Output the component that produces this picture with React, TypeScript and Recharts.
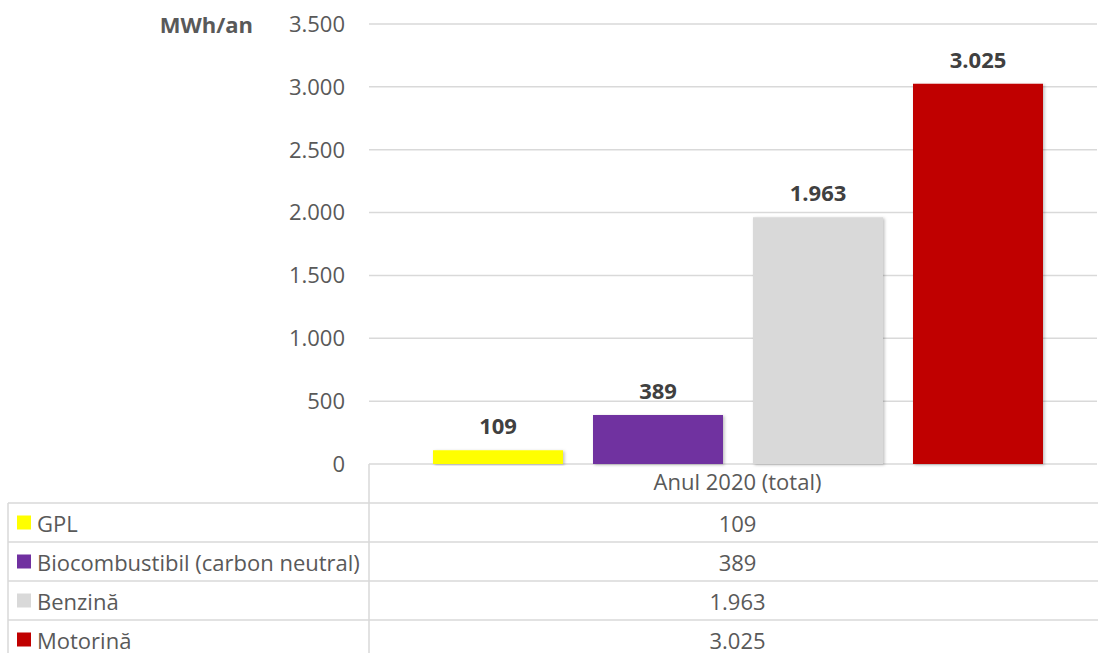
import { BarChart, Bar, XAxis, YAxis, CartesianGrid, LabelList, Customized } from "recharts";

const categories = ["Anul 2020 (total)"];
const seriesNames = ["GPL", "Biocombustibil (carbon neutral)", "Benzină", "Motorină"];
const seriesValues = [109, 389, 1963, 3025];
const seriesColors = ["#FFFF00", "#7030A0", "#D9D9D9", "#C00000"];
const yTicks = [0, 500, 1000, 1500, 2000, 2500, 3000, 3500];
const unitLabel = "MWh/an";

const W = 1098;
const H = 653;
const FONT = "'Open Sans', sans-serif";
const TEXT = "#595959";
const LINE = "#d9d9d9";

// plot area: x 369..1097, y 24..464
const PLOT_LEFT = 369;
const PLOT_BOTTOM = 464;
const ROW_H = 39;
const VALUE_X = 737.5;

const data = categories.map((name, c) => {
  const row: Record<string, string | number> = { name };
  seriesNames.forEach((_, i) => {
    row["s" + i] = c === 0 ? seriesValues[i] : 0;
  });
  return row;
});

const fmt = (v: number) => String(v).replace(/\B(?=(\d{3})+(?!\d))/g, ".");

function DataTable() {
  const left = 8;
  return (
    <g fontFamily={FONT}>
      <defs>
        <filter id="barShadow" x="-10%" y="-10%" width="120%" height="120%">
          <feDropShadow dx="1.5" dy="1" stdDeviation="1.5" floodColor="#000" floodOpacity="0.25" />
        </filter>
      </defs>
      <text x={253} y={24} textAnchor="end" dominantBaseline="central" fontSize={22} fontWeight="bold" fill={TEXT}>
        {unitLabel}
      </text>
      <line x1={PLOT_LEFT} y1={PLOT_BOTTOM} x2={PLOT_LEFT} y2={H} stroke={LINE} strokeWidth={1.5} />
      <line x1={left} y1={PLOT_BOTTOM + ROW_H} x2={left} y2={H} stroke={LINE} strokeWidth={1.5} />
      {seriesNames.map((name, i) => {
        const y = PLOT_BOTTOM + ROW_H * (i + 1);
        const cy = y + ROW_H / 2;
        return (
          <g key={name}>
            <line x1={left} y1={y} x2={W} y2={y} stroke={LINE} strokeWidth={1.5} />
            <rect x={17} y={cy - 7} width={14} height={14} fill={seriesColors[i]} />
            <text x={37} y={cy} dominantBaseline="central" fontSize={22} fill={TEXT}>
              {name}
            </text>
            <text x={VALUE_X} y={cy} textAnchor="middle" dominantBaseline="central" fontSize={22} fill={TEXT}>
              {fmt(seriesValues[i])}
            </text>
          </g>
        );
      })}
    </g>
  );
}

export default function App() {
  return (
    <div style={{ position: "absolute", left: 0, top: 0, width: W, height: H, background: "#fff" }}>
      <BarChart
        width={W}
        height={H}
        data={data}
        margin={{ top: 24, right: 1, bottom: 149, left: PLOT_LEFT - 60 }}
        barGap={30}
        barSize={130}
      >
        <CartesianGrid vertical={false} stroke={LINE} strokeWidth={1.5} />
        <XAxis
          dataKey="name"
          height={40}
          axisLine={false}
          tickLine={false}
          tickMargin={4}
          padding={{ left: 9, right: 0 }}
          tick={{ fill: TEXT, fontSize: 22, fontFamily: FONT }}
        />
        <YAxis
          width={60}
          domain={[0, 3500]}
          ticks={yTicks}
          axisLine={false}
          tickLine={false}
          tickMargin={18}
          tickFormatter={fmt}
          tick={{ fill: TEXT, fontSize: 22, fontFamily: FONT }}
        />
        {seriesNames.map((name, i) => (
          <Bar
            key={name}
            dataKey={"s" + i}
            name={name}
            fill={seriesColors[i]}
            filter="url(#barShadow)"
            isAnimationActive={false}
          >
            <LabelList
              dataKey={"s" + i}
              position="top"
              offset={16}
              formatter={(v: number) => fmt(v)}
              fill="#404040"
              fontSize={22}
              fontWeight="bold"
              fontFamily={FONT}
            />
          </Bar>
        ))}
        <Customized component={DataTable} />
      </BarChart>
    </div>
  );
}
